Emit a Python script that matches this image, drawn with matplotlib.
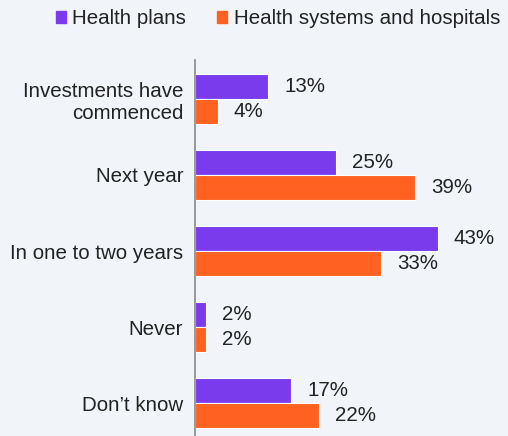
import matplotlib
matplotlib.use("Agg")
import matplotlib.pyplot as plt
import numpy as np

plt.rcParams['font.family'] = ['Liberation Sans', 'DejaVu Sans']

categories = ["Investments have\ncommenced", "Next year", "In one to two years", "Never", "Don\u2019t know"]
series_names = ["Health plans", "Health systems and hospitals"]
health_plans = [13, 25, 43, 2, 17]
health_systems = [4, 39, 33, 2, 22]

purple = "#7A3BEC"
orange = "#FF6220"
bg = "#F1F5F9"
text_color = "#222222"
fs = 14.8

fig = plt.figure(figsize=(5.08, 4.36), dpi=100, facecolor=bg)
ax = fig.add_axes([195 / 508, 0, 1 - 195 / 508, (436 - 60) / 436])
ax.set_facecolor(bg)

y = np.arange(len(categories))
h = 0.33
off = 0.166
b1 = ax.barh(y - off, health_plans, height=h, color=purple, edgecolor="white", linewidth=0.8)
b2 = ax.barh(y + off, health_systems, height=h, color=orange, edgecolor="white", linewidth=0.8)

for bars, vals in ((b1, health_plans), (b2, health_systems)):
    for rect, v in zip(bars, vals):
        ax.annotate(f"{v}%", (v, rect.get_y() + rect.get_height() / 2),
                    xytext=(16, 0), textcoords="offset pixels",
                    ha="left", va="center", fontsize=fs, color=text_color)

ax.set_xlim(0, (508 - 195) / 5.65)
ax.set_ylim(4.434, -0.513)
ax.set_yticks(y)
ax.set_yticklabels(categories, fontsize=fs, color=text_color, ha="right", linespacing=1.2)
ax.tick_params(axis="y", length=0, pad=8.5)
ax.set_xticks([])
for s in ("top", "right", "bottom"):
    ax.spines[s].set_visible(False)
ax.spines["left"].set_color("#8a8a8a")
ax.spines["left"].set_linewidth(1.2)

handles = [plt.Rectangle((0, 0), 1, 1, color=purple), plt.Rectangle((0, 0), 1, 1, color=orange)]
fig.legend(handles, series_names, loc="center", bbox_to_anchor=(278 / 508, 1 - 19 / 436),
           ncol=2, frameon=False, fontsize=fs, handlelength=0.5, handleheight=0.5,
           handletextpad=0.3, columnspacing=1.5, labelcolor=text_color)

fig.savefig("out.png", dpi=100, facecolor=bg)
